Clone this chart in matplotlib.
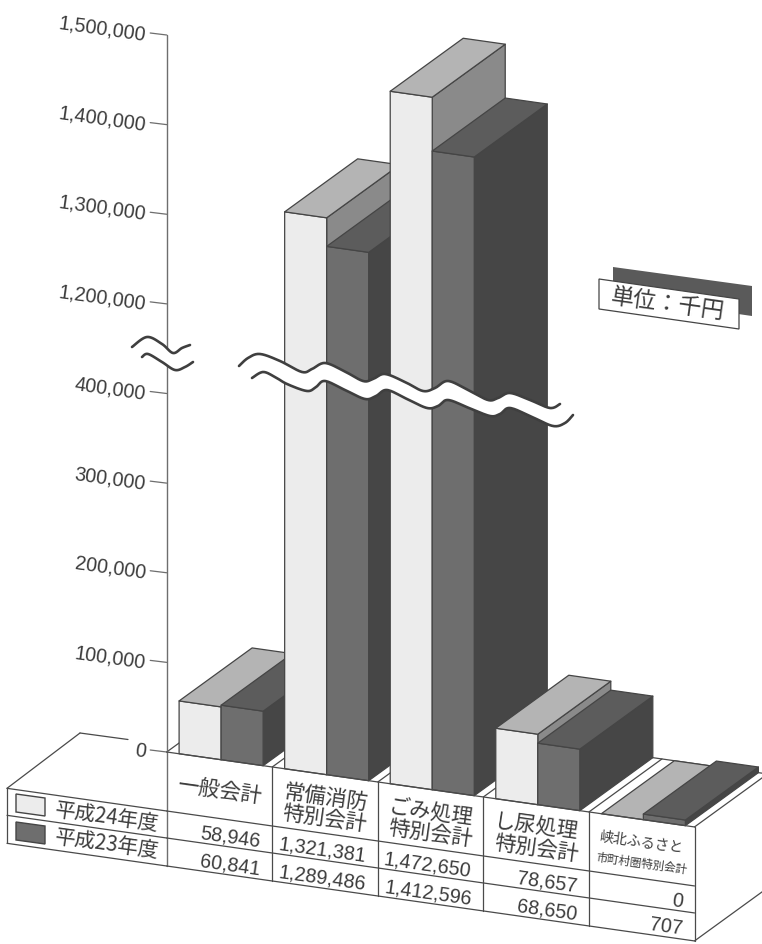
import numpy as np
import matplotlib
matplotlib.use("Agg")
import matplotlib.pyplot as plt
from matplotlib.patches import Polygon

# データ（単位：千円）
categories = [["一般会計"], ["常備消防", "特別会計"], ["ごみ処理", "特別会計"],
              ["し尿処理", "特別会計"], ["峡北ふるさと", "市町村圏特別会計"]]
series_names = ["平成24年度", "平成23年度"]
values_h24 = [58946, 1321381, 1472650, 78657, 0]
values_h23 = [60841, 1289486, 1412596, 68650, 707]
tick_values = [0, 100000, 200000, 300000, 400000, 1200000, 1300000, 1400000, 1500000]

# 波線で省略された縦軸
scale_values = [0, 400000, 1200000, 1500000]
scale_units = [0, 4, 5, 8]


def forward(v):
    return np.interp(v, scale_values, scale_units)


def inverse(u):
    return np.interp(u, scale_units, scale_values)


W, H = 762, 945
SLOPE = 0.142               # 手前の辺の傾き
DEPTH = (73, -53)           # 奥行き方向
ROT = -8
LINE = "#4a4a4a"
TEXT = "#3c3c3c"
JP = ["Noto Sans CJK JP", "DejaVu Sans"]
NUM = ["Liberation Sans", "DejaVu Sans"]
# 前面・上面・側面の色
COLORS = [("#ececec", "#b4b4b4", "#8a8a8a"), ("#6e6e6e", "#5c5c5c", "#464646")]

fig = plt.figure(figsize=(W / 100, H / 100), dpi=100)
ax = fig.add_axes([0, 0, 1, 1])
ax.set_xlim(0, W)
ax.set_ylim(H, 0)
ax.axis("off")

# 値 → 画素の変換はこの軸に任せる
AX_L, AX_R, AX_TOP, AX_BOT = 166.7, 694.5, 36.0, 753.0
ax_val = fig.add_axes([AX_L / W, (H - AX_BOT) / H, (AX_R - AX_L) / W, (AX_BOT - AX_TOP) / H])
ax_val.set_yscale("function", functions=(forward, inverse))
ax_val.set_xlim(0, len(categories))
ax_val.set_ylim(0, 1500000)
ax_val.axis("off")


def to_px(cx, value, depth=0):
    xd, yd = ax_val.transData.transform((cx, value))
    return (xd + depth * DEPTH[0], H - yd + (xd - AX_L) * SLOPE + depth * DEPTH[1])


def row_y(x, y_at_axis):
    return y_at_axis + (x - AX_L) * SLOPE


def seg(p, q, color=LINE, lw=0.9, z=1):
    ax.plot([p[0], q[0]], [p[1], q[1]], color=color, lw=lw, zorder=z, solid_capstyle="round")


def smooth(points, n=14):
    # Catmull-Rom で波線をなめらかにする
    p = np.array(points, dtype=float)
    p = np.vstack([p[0], p, p[-1]])
    out = []
    for i in range(1, len(p) - 2):
        for t in np.linspace(0, 1, n, endpoint=False):
            out.append(0.5 * (2 * p[i] + (p[i + 1] - p[i - 1]) * t
                              + (2 * p[i - 1] - 5 * p[i] + 4 * p[i + 1] - p[i + 2]) * t ** 2
                              + (3 * p[i] - p[i - 1] - 3 * p[i + 1] + p[i + 2]) * t ** 3))
    out.append(p[-2])
    return np.array(out)


def wave(upper, lower):
    up, lo = smooth(upper), smooth(lower)
    ax.add_patch(Polygon(np.vstack([up, lo[::-1]]), closed=True, fc="white", ec="none", zorder=4))
    ax.plot(up[:, 0], up[:, 1], color="#3f3f3f", lw=1.9, zorder=4.1, solid_capstyle="round")
    ax.plot(lo[:, 0], lo[:, 1], color="#3f3f3f", lw=1.9, zorder=4.1, solid_capstyle="round")


# 床の線
n = len(categories)
seg(to_px(0, 0, 0), to_px(0, 0, 1))
seg(to_px(0, 0, 1), to_px(n, 0, 1))
for i in range(1, n + 1):
    seg(to_px(i, 0, 0), to_px(i, 0, 1))

# 棒
BAR_START, BAR_W = 0.1175, 0.398
MIN_H = 5  # 極小の値でも厚みが見えるように


def face(points, color):
    ax.add_patch(Polygon(points, closed=True, fc=color, ec="#454545", lw=0.9,
                         joinstyle="round", zorder=2))


for i in range(n):
    for j, vals in enumerate([values_h24, values_h23]):
        v = vals[i]
        x0 = i + BAR_START + j * BAR_W
        x1 = x0 + BAR_W
        front, top, side = COLORS[j]
        lift = MIN_H if 0 < v and to_px(x0, 0)[1] - to_px(x0, v)[1] < MIN_H else 0

        def pt(cx, val, d=0):
            px, py = to_px(cx, val, d)
            return (px, py - (lift if val == v else 0))

        if v > 0:
            face([pt(x1, 0), pt(x1, 0, 1), pt(x1, v, 1), pt(x1, v)], side)
            face([pt(x0, 0), pt(x1, 0), pt(x1, v), pt(x0, v)], front)
        face([pt(x0, v), pt(x1, v), pt(x1, v, 1), pt(x0, v, 1)], top)

# 縦軸
seg((AX_L, AX_TOP), (AX_L, row_y(AX_L, 867)), color="#6e6e6e", lw=1.0, z=3)
for v in tick_values:
    xa, ya = to_px(0, v)
    seg((xa - 16.5, ya - 2), (xa, ya), color="#6e6e6e", lw=0.9, z=3)
    ax.text(xa - 21, ya - 0.5, f"{v:,}", family=NUM, fontsize=14.2, color=TEXT, rotation=ROT,
            rotation_mode="anchor", ha="right", va="center", zorder=5)

# 表の線
rows = [812, 839, 867]
seg(to_px(0, 0), to_px(n, 0), z=3)
for y in rows:
    seg((AX_L, y), (AX_R, row_y(AX_R, y)), z=3)
    seg((7, row_y(7, y)), (AX_L, y), z=3)
for i in range(1, n + 1):
    xi = to_px(i, 0)[0]
    seg((xi, row_y(xi, 753)), (xi, row_y(xi, rows[2])), z=3)
seg((7, row_y(7, rows[0])), (7, row_y(7, rows[2])), z=3)
# 凡例欄の上面
seg((7, row_y(7, rows[0])), (80, 734), z=3)
seg((80, 734), (128, 740.5), z=3)
# 右側面
xr = to_px(n, 0)[0]
seg((xr, row_y(xr, rows[2])), (xr + DEPTH[0] * 0.93, row_y(xr, rows[2]) + DEPTH[1] * 0.93), z=3)

# 項目名と数値
for i, cat in enumerate(categories):
    xm = to_px(i + 0.5, 0)[0]
    ym = (row_y(xm, 753) + row_y(xm, rows[0])) / 2
    size = [10.2, 8.3] if len(cat[0]) > 4 else [15.3, 15.3]
    gap = 10.5
    for k, line in enumerate(cat):
        dy = 2 if len(cat) == 1 else (k - 0.5) * 2 * gap + 3
        ax.text(xm, ym + dy, line, family=JP, fontsize=size[k], color=TEXT, rotation=ROT,
                rotation_mode="anchor", ha="center", va="center", zorder=5)
    xv = to_px(i + 1, 0)[0] - 12
    for r, vals in enumerate([values_h24, values_h23]):
        yv = (row_y(xv, rows[r]) + row_y(xv, rows[r + 1])) / 2 + 3
        ax.text(xv, yv, f"{vals[i]:,}", family=NUM, fontsize=14.2, color=TEXT, rotation=ROT,
                rotation_mode="anchor", ha="right", va="center", zorder=5)

# 凡例
swatches = [[(16, 795), (45, 799), (45, 817), (16, 813)], [(16, 823), (45, 827), (45, 845), (16, 841)]]
for r, name in enumerate(series_names):
    ax.add_patch(Polygon(swatches[r], closed=True, fc=COLORS[r][0], ec="#454545", lw=1.0, zorder=5))
    ax.text(55, row_y(55, rows[r]) + 13.5, name, family=JP, fontsize=14.8, color=TEXT, rotation=ROT,
            rotation_mode="anchor", ha="left", va="center", zorder=5)

# 単位
ax.add_patch(Polygon([(613, 268), (752, 287), (752, 317), (613, 297)], closed=True,
                     fc="#5a5a5a", ec="none", zorder=2))
ax.add_patch(Polygon([(599, 280), (739, 300), (739, 330), (599, 310)], closed=True,
                     fc="white", ec="#454545", lw=0.9, zorder=3))
ax.text(668, 305, "単位：千円", family=JP, fontsize=16.5, color=TEXT, rotation=ROT,
        rotation_mode="anchor", ha="center", va="center", zorder=5)

# 波線
upper_long = [(239, 367), (248, 359), (260, 355), (280, 362), (302, 373), (312, 370), (325, 364), (344, 372),
              (363, 382), (373, 380), (385, 375), (405, 383), (423, 392), (435, 389), (448, 382), (468, 391),
              (488, 401), (498, 399), (510, 394), (530, 401), (550, 409), (560, 405)]
lower_long = [(252, 379), (263, 373), (275, 378), (287, 385), (307, 392), (316, 388), (325, 382), (345, 391),
              (365, 400), (376, 397), (387, 391), (407, 400), (427, 409), (438, 407), (448, 401), (469, 409),
              (490, 417), (500, 415), (510, 409), (532, 418), (553, 427), (565, 424), (573, 416)]
wave(upper_long, lower_long)
upper_short = [(132, 348), (147, 338), (162, 345), (173, 354), (182, 349), (190, 346)]
lower_short = [(142, 358), (148, 355), (162, 363), (175, 371), (185, 368), (193, 363)]
wave(upper_short, lower_short)

fig.savefig("out.png", dpi=100)
